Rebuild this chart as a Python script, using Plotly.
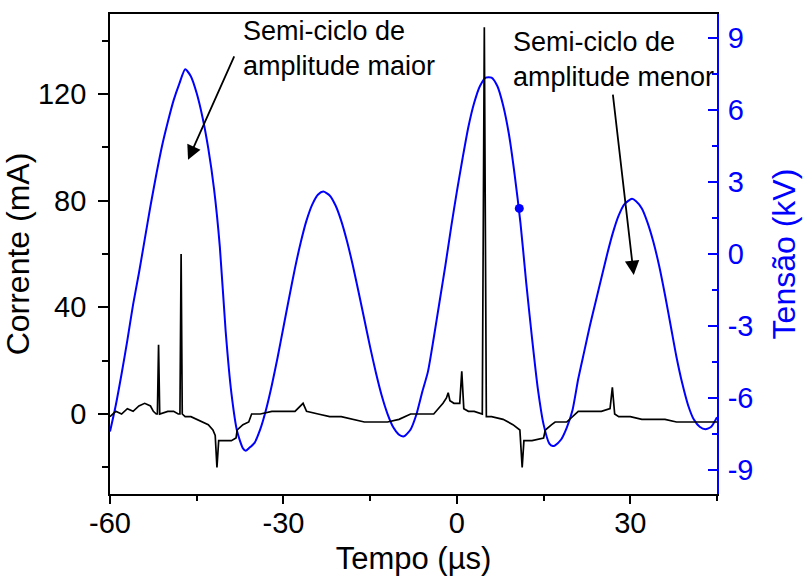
import plotly.graph_objects as go

# ---- Data ----
# Voltage (kV) vs time (us)
t_v = [-60, -59, -58, -57, -56, -55, -54, -53, -52, -51, -50, -49, -48, -47, -46, -45, -44, -43, -42, -41,
       -40, -39, -38, -37, -36.5, -36, -35, -34, -33, -32, -31, -30, -29, -28, -27, -26, -25, -24, -23.1,
       -22, -21, -20, -19, -18, -17, -16, -15, -14, -13, -12, -11, -10, -9.3, -9, -8, -7, -6, -5, -4, -3,
       -2, -1, 0, 1, 2, 3, 4, 5, 6, 7, 8, 9, 10, 11, 12, 13, 14, 15, 16, 16.6, 17, 18, 19, 20, 21, 22, 23,
       24, 25, 26, 27, 28, 29, 30.3, 31, 32, 33, 34, 35, 36, 37, 38, 39, 40, 41, 42, 43, 44, 45]
v_kv = [-7.4, -6.3, -5.0, -3.6, -2.1, -0.8, 0.6, 2.0, 3.3, 4.5, 5.5, 6.4, 7.1, 7.7, 7.4, 6.7, 5.7, 4.4, 2.7, 0.3,
        -3.2, -5.8, -7.4, -8.1, -8.2, -8.1, -7.87, -7.3, -6.48, -5.46, -4.3, -3.05, -1.8, -0.59, 0.49, 1.4, 2.07, 2.48, 2.6,
        2.44, 2.03, 1.38, 0.53, -0.47, -1.58, -2.73, -3.88, -4.95, -5.9, -6.66, -7.22, -7.53, -7.6, -7.58, -7.31, -6.69, -5.76, -4.9, -3.5, -2.0,
        -0.5, 1.1, 2.6, 4.0, 5.3, 6.3, 7.0, 7.35, 7.35, 7.0, 6.2, 5.0, 3.3, 1.3, -1.2, -3.5, -5.6, -7.1, -7.9, -8.0, -7.97, -7.74, -7.24, -6.51, -5.2, -4.1, -3.0,
        -2.0, -1.0, -0.01, 0.89, 1.61, 2.08, 2.3, 2.2, 1.9, 1.3, 0.5, -0.5, -1.7, -3.0, -4.3, -5.4, -6.3, -6.9, -7.2, -7.3, -7.2, -6.8]

# Current (mA) vs time (us)
t_i = [-60, -59, -58, -57, -56, -55, -54, -53, -52.5, -52, -51.8, -51.6, -51.4, -50, -49, -48.2, -47.9, -47.7, -47.5,
       -47, -46, -45, -44, -43, -42.2, -41.8, -41.5, -41.2, -40, -39, -38.2, -38, -37, -36, -35.5, -34, -32, -30,
       -28, -26.6, -26, -24, -22, -20, -18, -16, -14, -12, -10, -8, -6, -4, -2.4, -1.8, -1.5, -1.2, -0.5, 0.5, 0.85,
       1.2, 2, 3, 4.4, 4.75, 5.1, 6, 8, 9.7, 10.9, 11.3, 11.6, 13, 15, 15.3, 16.4, 17, 19, 21, 23, 25, 26.5, 26.9,
       27.3, 28, 30, 32, 34, 36, 38, 40, 42, 44, 45]
i_ma = [-1, 1, 0, 2, 1, 3, 4, 3, 1, 0, 0, 26, 0, 1, 1, 0, 0, 60, 0,
        -1, -1, -2, -3, -4, -6, -8, -20, -10, -10, -10, -9, -6, -4, -3, 0, 0, 1, 1,
        1, 4, 1, 0, -1, -1, -2, -3, -3, -3, -2, 0, 0, 0, 4, 6, 8, 5, 4, 4, 16,
        2, 1, 1, 0, 145, -1, -1, -2, -4, -6, -20, -10, -10, -9, -6, -4, -3, -3, 1, 1, 1, 2, 10,
        0, -1, -1, -2, -2, -2, -3, -3, -3, -3, -3]

# Single highlighted voltage point
dot_t = [10.8]
dot_kv = [1.9]

x_ticks = [-60, -30, 0, 30]
x_labels = ["-60", "-30", "0", "30"]
i_ticks = [0, 40, 80, 120]
i_labels = ["0", "40", "80", "120"]
v_ticks = [-9, -6, -3, 0, 3, 6, 9]
v_labels = ["-9", "-6", "-3", "0", "3", "6", "9"]

FONT = "Liberation Sans, Arial, sans-serif"
BLUE = "#0000FF"

fig = go.Figure()

fig.add_trace(go.Scatter(x=t_v, y=v_kv, mode="lines", yaxis="y",
                         line=dict(color=BLUE, width=2, shape="spline", smoothing=0.6),
                         showlegend=False, hoverinfo="skip"))
fig.add_trace(go.Scatter(x=dot_t, y=dot_kv, mode="markers", yaxis="y",
                         marker=dict(color=BLUE, size=9), showlegend=False))
fig.add_trace(go.Scatter(x=t_i, y=i_ma, mode="lines", yaxis="y2",
                         line=dict(color="black", width=1.7),
                         showlegend=False, hoverinfo="skip"))

fig.update_layout(
    width=809, height=581,
    margin=dict(l=110, r=92, t=14, b=87),
    paper_bgcolor="white", plot_bgcolor="white",
    font=dict(family=FONT, color="black"),
    xaxis=dict(range=[-60, 45], tickvals=x_ticks, ticktext=x_labels, showgrid=False, zeroline=False,
               automargin=False,
               showline=True, linecolor="black", linewidth=1.8, mirror=True,
               ticks="outside", ticklen=8, tickwidth=1.8, tickcolor="black",
               minor=dict(dtick=15, tick0=0, ticks="outside", ticklen=5, tickwidth=1.5, tickcolor="black"),
               tickfont=dict(size=29, family=FONT), ticklabelstandoff=-6,
               title=dict(text="Tempo (µs)", font=dict(size=31, family=FONT), standoff=10)),
    yaxis=dict(range=[-10, 10], tickvals=v_ticks, ticktext=v_labels, side="right", showgrid=False, zeroline=False,
               automargin=False,
               showline=True, linecolor=BLUE, linewidth=1.8,
               ticks="inside", ticklen=9, tickwidth=1.8, tickcolor=BLUE,
               minor=dict(dtick=1.5, tick0=0, ticks="inside", ticklen=5, tickwidth=1.5, tickcolor=BLUE),
               tickfont=dict(size=29, color=BLUE, family=FONT), ticklabelstandoff=3,
               title=dict(text="Tensão (kV)", font=dict(size=32, color=BLUE, family=FONT), standoff=20)),
    yaxis2=dict(range=[-30, 150], tickvals=i_ticks, ticktext=i_labels, side="left", overlaying="y",
                showgrid=False, zeroline=False, automargin=False,
                showline=True, linecolor="black", linewidth=1.8,
                ticks="outside", ticklen=10, tickwidth=1.8, tickcolor="black",
                minor=dict(dtick=20, tick0=0, ticks="outside", ticklen=6, tickwidth=1.5, tickcolor="black"),
                tickfont=dict(size=29, family=FONT), ticklabelstandoff=6,
                title=dict(text="Corrente (mA)", font=dict(size=32, family=FONT), standoff=14)),
)

fig.add_annotation(text="Semi-ciclo de<br>amplitude maior", xref="paper", yref="paper",
                   x=0.215, y=1.0, xanchor="left", yanchor="top", align="left", showarrow=False,
                   font=dict(size=27, family=FONT, color="black"))
fig.add_annotation(text="Semi-ciclo de<br>amplitude menor", xref="paper", yref="paper",
                   x=0.66, y=0.978, xanchor="left", yanchor="top", align="left", showarrow=False,
                   font=dict(size=27, family=FONT, color="black"))
# arrows
fig.add_annotation(x=-46.5, y=95.3, xref="x", yref="y2", ax=-38.4, ay=134.7, axref="x", ayref="y2",
                   text="", showarrow=True, arrowhead=2, arrowsize=1.6, arrowwidth=1.8, arrowcolor="black")
fig.add_annotation(x=30.6, y=52.1, xref="x", yref="y2", ax=26.96, ay=120.3, axref="x", ayref="y2",
                   text="", showarrow=True, arrowhead=2, arrowsize=1.6, arrowwidth=1.8, arrowcolor="black")

fig.write_html("out.html")
